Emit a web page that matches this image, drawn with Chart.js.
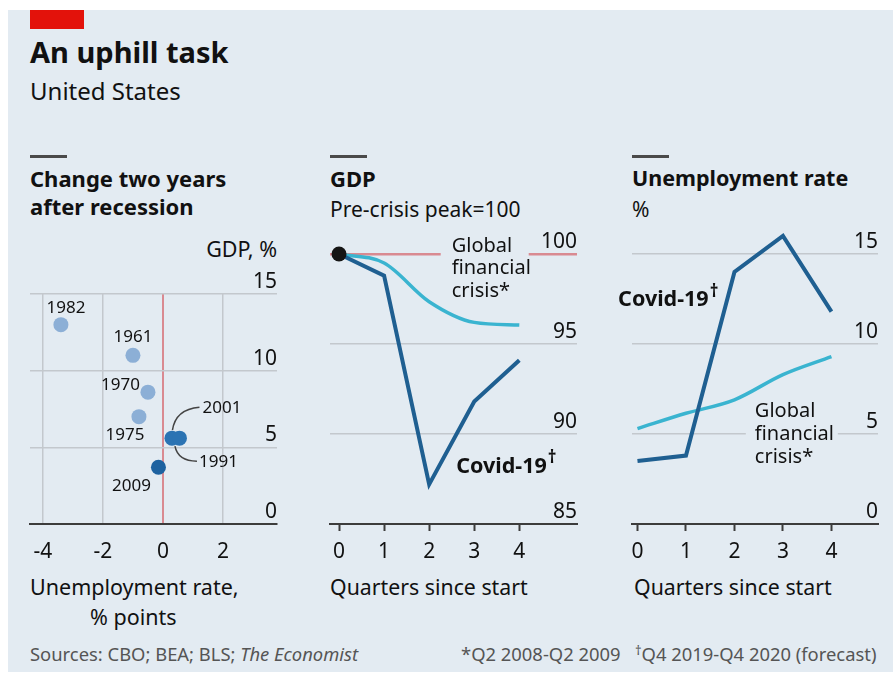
<!DOCTYPE html>
<html>
<head>
<meta charset="utf-8">
<script src="https://cdn.jsdelivr.net/npm/chart.js@4.4.1/dist/chart.umd.min.js"></script>
<style>
    body { margin: 0; background: #fff; font-family: "Noto Sans", sans-serif; color: #111; }
    #page { position: relative; width: 893px; height: 673px; overflow: hidden; }
    #panel { position: absolute; left: 8px; top: 10px; width: 885px; height: 662px; background: #e3ebf2; }
    .t { position: absolute; white-space: nowrap; line-height: 1; }
    .bar { position: absolute; height: 3px; width: 37px; background: #4a4a4a; top: 155px; }
    .b { font-weight: 700; }
    canvas { position: absolute; }
    sup { font-size: 0.7em; vertical-align: 0.45em; line-height: 0; }
</style>
</head>
<body>
<div id="page">
    <div id="panel"></div>
    <div style="position:absolute;left:30px;top:10px;width:54px;height:19px;background:#e3120b;"></div>
    <div class="t b" style="left:30px;top:37px;font-size:29px;">An uphill task</div>
    <div class="t" style="left:30px;top:79px;font-size:24px;">United States</div>

    <div class="bar" style="left:30px;"></div>
    <div class="bar" style="left:330px;"></div>
    <div class="bar" style="left:632px;"></div>

    <div class="t b" style="left:30px;top:164px;font-size:22px;line-height:28px;">Change two years<br>after recession</div>
    <div class="t b" style="left:330px;top:164px;font-size:22px;line-height:28px;">GDP</div>
    <div class="t" style="left:330px;top:195px;font-size:21px;line-height:28px;">Pre-crisis peak=100</div>
    <div class="t b" style="left:632px;top:164px;font-size:21.5px;line-height:28px;">Unemployment rate</div>
    <div class="t" style="left:632px;top:195px;font-size:21px;line-height:28px;">%</div>
    <div class="t" style="right:616px;top:238px;font-size:21.5px;">GDP, %</div>

    <canvas id="scatter" width="300" height="340" style="left:0;top:230px;"></canvas>
    <canvas id="gdp" width="300" height="370" style="left:300px;top:200px;"></canvas>
    <canvas id="unemp" width="293" height="370" style="left:600px;top:200px;"></canvas>

    <div class="t" style="left:30px;top:576px;font-size:21.5px;">Unemployment rate,</div>
    <div class="t" style="left:90px;top:606px;font-size:21.5px;">% points</div>
    <div class="t" style="left:330px;top:576px;font-size:21.3px;">Quarters since start</div>
    <div class="t" style="left:634px;top:576px;font-size:21.3px;">Quarters since start</div>

    <div class="t" style="left:30px;top:645px;font-size:18.4px;color:#555;">Sources: CBO; BEA; BLS; <i>The Economist</i></div>
    <div class="t" style="left:461px;top:645px;font-size:18.4px;color:#555;">*Q2 2008-Q2 2009</div>
    <div class="t" style="left:635px;top:645px;font-size:18.4px;color:#555;"><sup>†</sup>Q4 2019-Q4 2020 (forecast)</div>
</div>

<script>
// Scatter: change two years after each recession
const years = [1982, 1961, 1970, 1975, 1991, 2001, 2009];
const unempChange = [-3.4, -1.0, -0.5, -0.8, 0.3, 0.55, -0.15];
const gdpChange = [13.0, 11.0, 8.6, 7.0, 5.6, 5.6, 3.7];
const scatterXTicks = [-4, -2, 0, 2];
const scatterYTicks = [0, 5, 10, 15];

// Quarterly paths, GFC vs Covid-19
const quarters = [0, 1, 2, 3, 4];
const gdpCovid = [100, 98.8, 87.2, 91.8, 94.1];
const gdpGfc = [100, 99.5, 97.35, 96.2, 96.05];
const gdpTicks = [85, 90, 95, 100];
const unempCovid = [3.5, 3.8, 14.0, 16.0, 11.8];
const unempGfc = [5.3, 6.15, 6.9, 8.3, 9.3];
const unempTicks = [0, 5, 10, 15];

const BG = '#e3ebf2';
const GRID = '#c3c8cd';
const AXIS = '#3c3c3c';
const RED = '#d98a91';
const COVID = '#1f5f91';
const GFC = '#3ab4d0';
const FONT = '"Noto Sans", sans-serif';

// label offsets from each dot: [dx, dy, align]
const yearLabelPos = {
    1982: [5, -17, 'center'],
    1961: [0, -18, 'center'],
    1970: [-8, -7, 'right'],
    1975: [-14, 18, 'center'],
    1991: [27, 24, 'left'],
    2001: [23, -30, 'left'],
    2009: [-27, 19, 'center']
};

function dotColour(year) {
    if (year >= 2009) return '#1d62a0';
    if (year >= 1990) return '#2b73b3';
    return '#8cafd6';
}

function setTicks(list) {
    return scale => { scale.ticks = list.map(v => ({ value: v })); };
}

function points(xs, ys) {
    return xs.map((x, i) => ({ x: x, y: ys[i] }));
}

function yAxis(min, max, list, gridColour, gridWidth) {
    return {
        position: 'right',
        min: min,
        max: max,
        afterBuildTicks: setTicks(list),
        afterFit: s => { s.width = 0; },
        grid: { color: gridColour, lineWidth: gridWidth || 1.5, drawTicks: false },
        border: { display: false },
        ticks: { mirror: true, padding: 0, labelOffset: -12, color: '#111', font: { family: FONT, size: 21 } }
    };
}

function quarterAxis(min, max) {
    return {
        type: 'linear',
        min: min,
        max: max,
        afterBuildTicks: setTicks(quarters),
        afterFit: s => { s.height = 46; },
        grid: { drawOnChartArea: false, drawTicks: true, tickLength: 7, tickColor: AXIS, tickWidth: 2, color: AXIS },
        border: { color: AXIS, width: 2 },
        ticks: { padding: 8, color: '#111', font: { family: FONT, size: 21 } }
    };
}

function drawDaggerLabel(ctx, text, x, y) {
    ctx.font = 'bold 21.5px ' + FONT;
    ctx.textAlign = 'left';
    ctx.textBaseline = 'middle';
    ctx.fillText(text, x, y);
    const w = ctx.measureText(text).width;
    ctx.font = 'bold 17px ' + FONT;
    ctx.fillText('†', x + w + 1, y - 8);
}

function drawLines(ctx, lines, x, y, gap) {
    ctx.font = '20px ' + FONT;
    ctx.textAlign = 'left';
    ctx.textBaseline = 'middle';
    lines.forEach((s, i) => ctx.fillText(s, x, y + i * gap));
}

const scatterNotes = {
    id: 'scatterNotes',
    afterDatasetsDraw(chart) {
        const { ctx, scales: { x, y } } = chart;
        ctx.save();
        ctx.fillStyle = '#111';
        ctx.font = '17px ' + FONT;
        ctx.textBaseline = 'middle';
        const pos = {};
        years.forEach((yr, i) => {
            const px = x.getPixelForValue(unempChange[i]);
            const py = y.getPixelForValue(gdpChange[i]);
            pos[yr] = [px, py];
            const [dx, dy, align] = yearLabelPos[yr];
            ctx.textAlign = align;
            ctx.fillText(String(yr), px + dx, py + dy);
        });
        ctx.strokeStyle = '#444';
        ctx.lineWidth = 1.5;
        const p = pos[2001], q = pos[1991];
        ctx.beginPath();
        ctx.moveTo(p[0] + 20, p[1] - 31);
        ctx.quadraticCurveTo(p[0] - 4, p[1] - 29, p[0] - 7, p[1] - 8);
        ctx.stroke();
        ctx.beginPath();
        ctx.moveTo(q[0] + 3, q[1] + 8);
        ctx.quadraticCurveTo(q[0] + 6, q[1] + 23, q[0] + 25, q[1] + 23);
        ctx.stroke();
        ctx.restore();
    }
};

const gdpNotes = {
    id: 'gdpNotes',
    beforeDatasetsDraw(chart) {
        const { ctx, scales: { x, y } } = chart;
        const gx = x.getPixelForValue(2.5);
        const gy = y.getPixelForValue(100);
        ctx.save();
        ctx.fillStyle = BG;
        ctx.fillRect(gx - 11, gy - 10, 88, 20);
        ctx.restore();
    },
    afterDatasetsDraw(chart) {
        const { ctx, scales: { x, y } } = chart;
        ctx.save();
        ctx.fillStyle = '#111';
        drawLines(ctx, ['Global', 'financial', 'crisis*'], x.getPixelForValue(2.5), y.getPixelForValue(100) - 8, 22.5);
        drawDaggerLabel(ctx, 'Covid-19', x.getPixelForValue(2.6), y.getPixelForValue(88.2));
        ctx.restore();
    }
};

const unempNotes = {
    id: 'unempNotes',
    beforeDatasetsDraw(chart) {
        const { ctx, scales: { x, y } } = chart;
        const gx = x.getPixelForValue(2.42);
        const gy = y.getPixelForValue(5);
        ctx.save();
        ctx.fillStyle = BG;
        ctx.fillRect(gx - 9, gy - 10, 92, 20);
        ctx.restore();
    },
    afterDatasetsDraw(chart) {
        const { ctx, scales: { x, y } } = chart;
        ctx.save();
        ctx.fillStyle = '#111';
        drawLines(ctx, ['Global', 'financial', 'crisis*'], x.getPixelForValue(2.42), y.getPixelForValue(5) - 23, 23);
        drawDaggerLabel(ctx, 'Covid-19', x.getPixelForValue(-0.4), y.getPixelForValue(12.44));
        ctx.restore();
    }
};

const baseOptions = {
    responsive: false,
    animation: false,
    events: [],
    plugins: { legend: { display: false }, tooltip: { enabled: false } }
};

new Chart(document.getElementById('scatter'), {
    type: 'scatter',
    data: {
        datasets: [{
            data: points(unempChange, gdpChange),
            backgroundColor: years.map(dotColour),
            pointRadius: 7.5,
            pointBorderWidth: 0
        }]
    },
    options: {
        ...baseOptions,
        layout: { padding: { left: 30, right: 23, top: 64, bottom: 0 } },
        scales: {
            x: {
                type: 'linear',
                min: -4.43,
                max: 3.8,
                afterBuildTicks: setTicks(scatterXTicks),
                afterFit: s => { s.height = 46; },
                grid: {
                    color: c => (c.tick && c.tick.value === 0) ? RED : GRID,
                    lineWidth: c => (c.tick && c.tick.value === 0) ? 2 : 1.5,
                    drawTicks: false
                },
                border: { color: AXIS, width: 2 },
                ticks: { padding: 15, color: '#111', font: { family: FONT, size: 21 } }
            },
            y: yAxis(0, 15, scatterYTicks, c => c.tick.value === 0 ? 'rgba(0,0,0,0)' : GRID)
        }
    },
    plugins: [scatterNotes]
});

new Chart(document.getElementById('gdp'), {
    type: 'line',
    data: {
        datasets: [{
            data: points(quarters, gdpCovid),
            borderColor: COVID,
            borderWidth: 4,
            pointRadius: c => c.dataIndex === 0 ? 7.5 : 0,
            pointBackgroundColor: '#151515',
            pointBorderWidth: 0,
            clip: false
        }, {
            data: points(quarters, gdpGfc),
            borderColor: GFC,
            borderWidth: 3.5,
            pointRadius: 0,
            cubicInterpolationMode: 'monotone',
            clip: false
        }]
    },
    options: {
        ...baseOptions,
        layout: { padding: { left: 30, right: 23, top: 54, bottom: 0 } },
        scales: {
            x: quarterAxis(-0.2, 5.28),
            y: yAxis(85, 100, gdpTicks,
                c => c.tick.value === 100 ? RED : (c.tick.value === 85 ? 'rgba(0,0,0,0)' : GRID),
                c => c.tick.value === 100 ? 2.5 : 1.5)
        }
    },
    plugins: [gdpNotes]
});

new Chart(document.getElementById('unemp'), {
    type: 'line',
    data: {
        datasets: [{
            data: points(quarters, unempCovid),
            borderColor: COVID,
            borderWidth: 4,
            pointRadius: 0,
            clip: false
        }, {
            data: points(quarters, unempGfc),
            borderColor: GFC,
            borderWidth: 3.5,
            pointRadius: 0,
            cubicInterpolationMode: 'monotone',
            clip: false
        }]
    },
    options: {
        ...baseOptions,
        layout: { padding: { left: 32, right: 15, top: 54, bottom: 0 } },
        scales: {
            x: quarterAxis(-0.113, 4.96),
            y: yAxis(0, 15, unempTicks, c => c.tick.value === 0 ? 'rgba(0,0,0,0)' : GRID)
        }
    },
    plugins: [unempNotes]
});
</script>
</body>
</html>
